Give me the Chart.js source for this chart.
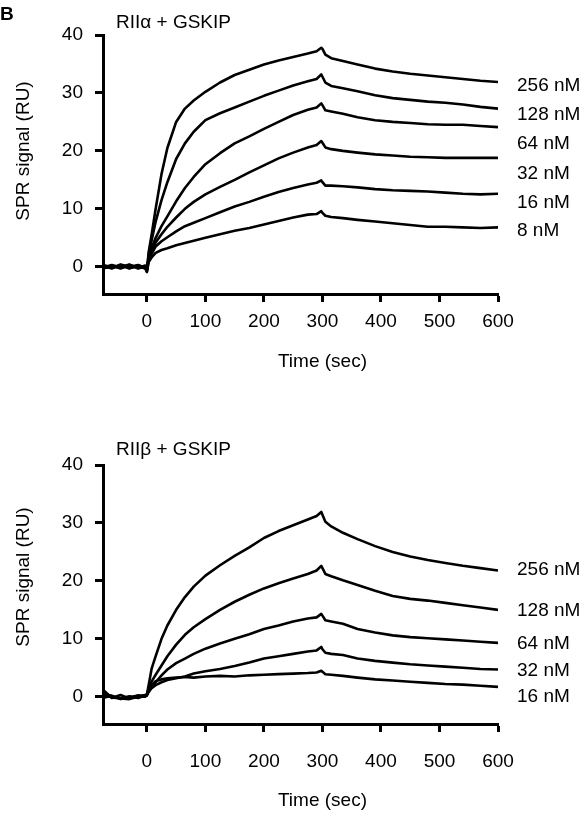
<!DOCTYPE html>
<html>
<head>
<meta charset="utf-8">
<script src="https://cdn.jsdelivr.net/npm/chart.js@4.4.1/dist/chart.umd.min.js"></script>
<style>
  body { margin: 0; background: #fff; }
  #wrap { position: relative; width: 588px; height: 815px; }
  .panel { position: absolute; left: 0; width: 588px; }
</style>
</head>
<body>
<div id="wrap">
  <div class="panel" style="top:0;height:400px"><canvas id="chartA" width="588" height="400"></canvas></div>
  <div class="panel" style="top:430px;height:385px"><canvas id="chartB" width="588" height="385"></canvas></div>
</div>
<script>
// sample times (sec), shared by every trace
const times = [-75, -60, -45, -30, -15, -3, 0, 3, 8, 15, 25, 35, 50, 65, 80, 100, 125, 150, 175, 200,
  225, 250, 275, 290, 298, 300, 305, 315, 335, 360, 390, 420, 450, 480, 510, 540, 570, 600];
const xTicks = [0, 100, 200, 300, 400, 500, 600];
const yTicks = [0, 10, 20, 30, 40];

// RIIalpha + GSKIP
const alphaLabels = ["256 nM", "128 nM", "64 nM", "32 nM", "16 nM", "8 nM"];
const alphaLabelAt = [31.2, 26.3, 21.3, 16.0, 11.0, 6.2];
const alpha256 = [0.2, -0.3, 0.4, 0.0, 0.3, -0.2, -0.8, 2.5, 5.5, 10.0, 16.0, 20.5, 25.0, 27.3, 28.7, 30.2, 31.8, 33.1, 34.0, 34.9,
  35.6, 36.2, 36.8, 37.2, 37.8, 37.6, 36.6, 36.0, 35.5, 34.9, 34.2, 33.7, 33.3, 33.0, 32.7, 32.4, 32.1, 31.9];
const alpha128 = [-0.2, 0.3, -0.1, 0.4, -0.3, 0.1, -0.6, 2.0, 4.5, 7.8, 11.5, 14.6, 18.6, 21.3, 23.3, 25.3, 26.5, 27.5, 28.5, 29.5,
  30.4, 31.3, 32.0, 32.4, 33.2, 32.8, 31.8, 31.2, 30.8, 30.3, 29.6, 29.1, 28.8, 28.5, 28.3, 28.0, 27.6, 27.3];
const alpha64 = [0.1, -0.2, 0.3, -0.3, 0.2, -0.1, -0.5, 1.5, 3.2, 5.0, 7.0, 8.7, 11.3, 13.6, 15.5, 17.7, 19.6, 21.3, 22.5, 23.8,
  25.0, 26.2, 27.1, 27.5, 28.2, 27.9, 27.0, 26.8, 26.4, 25.8, 25.3, 25.0, 24.8, 24.6, 24.5, 24.5, 24.3, 24.1];
const alpha32 = [-0.1, 0.2, -0.3, 0.3, -0.2, 0.2, -0.4, 1.2, 2.6, 4.2, 5.6, 6.9, 8.5, 10.0, 11.2, 12.5, 13.8, 15.0, 16.3, 17.5,
  18.7, 19.7, 20.6, 21.0, 21.7, 21.4, 20.6, 20.3, 20.0, 19.7, 19.4, 19.2, 19.0, 18.9, 18.8, 18.8, 18.8, 18.8];
const alpha16 = [0.3, -0.1, 0.2, -0.2, 0.1, -0.3, -0.7, 1.0, 2.2, 3.5, 4.4, 5.1, 6.1, 7.0, 7.6, 8.4, 9.4, 10.4, 11.2, 12.1,
  12.9, 13.6, 14.2, 14.5, 14.9, 14.6, 14.0, 14.0, 13.9, 13.7, 13.4, 13.2, 13.1, 13.0, 12.8, 12.6, 12.5, 12.6];
const alpha8 = [-0.3, 0.1, -0.2, 0.2, -0.1, 0.0, -0.9, 0.8, 1.6, 2.4, 2.9, 3.2, 3.7, 4.1, 4.5, 5.0, 5.6, 6.2, 6.7, 7.3,
  7.9, 8.5, 9.0, 9.1, 9.6, 9.3, 8.8, 8.6, 8.4, 8.1, 7.8, 7.5, 7.2, 6.9, 6.9, 6.8, 6.7, 6.8];

// RIIbeta + GSKIP
const betaLabels = ["256 nM", "128 nM", "64 nM", "32 nM", "16 nM"];
const betaLabelAt = [21.9, 14.9, 9.2, 4.5, 0.0];
const beta256 = [1.2, -0.2, 0.3, -0.3, 0.2, 0.1, 0.4, 2.0, 4.8, 7.0, 10.0, 12.3, 15.0, 17.2, 19.0, 20.9, 22.7, 24.3, 25.8, 27.4,
  28.6, 29.6, 30.6, 31.2, 31.9, 31.4, 30.2, 29.4, 28.3, 27.2, 26.0, 25.0, 24.2, 23.6, 23.1, 22.6, 22.2, 21.8];
const beta128 = [0.5, 0.1, -0.3, -0.4, 0.0, 0.2, 0.3, 1.4, 2.6, 3.8, 5.4, 7.0, 9.0, 10.7, 12.0, 13.4, 15.0, 16.4, 17.6, 18.7,
  19.6, 20.4, 21.2, 21.8, 22.6, 22.2, 21.2, 20.8, 20.1, 19.3, 18.3, 17.4, 16.9, 16.6, 16.2, 15.8, 15.4, 15.0];
const beta64 = [-0.2, 0.2, -0.4, -0.2, 0.1, 0.3, 0.2, 1.0, 1.8, 2.5, 3.7, 4.7, 5.8, 6.6, 7.4, 8.3, 9.2, 10.0, 10.8, 11.7,
  12.3, 13.0, 13.5, 13.7, 14.3, 14.0, 13.2, 13.0, 12.6, 11.7, 11.1, 10.6, 10.3, 10.1, 9.9, 9.7, 9.5, 9.3];
const beta32 = [0.3, -0.1, -0.3, 0.1, -0.2, 0.2, 0.4, 0.8, 1.5, 2.0, 2.5, 2.9, 3.2, 3.5, 4.0, 4.4, 4.8, 5.3, 5.9, 6.6,
  7.0, 7.4, 7.8, 8.0, 8.6, 8.2, 7.6, 7.4, 7.2, 6.6, 6.2, 5.9, 5.6, 5.4, 5.2, 5.0, 4.8, 4.7];
const beta16 = [0.8, 0.0, -0.2, -0.1, 0.2, 0.0, 0.3, 1.0, 2.0, 2.7, 3.0, 3.2, 3.3, 3.4, 3.3, 3.5, 3.6, 3.5, 3.7, 3.8,
  3.9, 4.0, 4.1, 4.2, 4.5, 4.3, 3.9, 3.8, 3.6, 3.3, 3.0, 2.8, 2.6, 2.4, 2.2, 2.1, 1.9, 1.7];

const FONT = '"Liberation Sans", Arial, sans-serif';
Chart.defaults.font.family = FONT;
Chart.defaults.font.size = 19;
Chart.defaults.color = "#000";

// panel title, concentration labels and axis titles
const panelText = {
  id: "panelText",
  afterDraw(chart, args, opts) {
    const { ctx } = chart;
    const x = chart.scales.x, y = chart.scales.y;
    ctx.save();
    ctx.fillStyle = "#000";
    ctx.font = "19px " + FONT;
    ctx.textBaseline = "middle";
    ctx.textAlign = "left";
    ctx.fillText(opts.title, 116, opts.titleY);
    opts.labels.forEach((lab, i) => {
      ctx.fillText(lab, 517, y.getPixelForValue(opts.labelAt[i]));
    });
    ctx.textAlign = "center";
    ctx.fillText("Time (sec)", x.getPixelForValue(300), opts.xTitleY);
    ctx.save();
    ctx.translate(24, opts.yTitleY);
    ctx.rotate(-Math.PI / 2);
    ctx.fillText("SPR signal (RU)", 0, 0);
    ctx.restore();
    if (opts.letter) {
      ctx.font = "bold 19px " + FONT;
      ctx.textAlign = "left";
      ctx.fillText(opts.letter, 0, 15);
    }
    ctx.restore();
  }
};

function makeChart(id, series, text, tickPad) {
  const axisGrid = { drawOnChartArea: false, drawTicks: true, tickLength: 8, tickWidth: 3, tickColor: "#000" };
  const axisBorder = { display: true, width: 3, color: "#000" };
  return new Chart(document.getElementById(id), {
    type: "line",
    data: {
      datasets: series.map((vals) => ({
        data: times.map((t, i) => ({ x: t, y: vals[i] })),
        borderColor: "#000",
        borderWidth: 2.6,
        borderJoinStyle: "round",
        pointRadius: 0,
        tension: 0,
        fill: false,
      })),
    },
    options: {
      responsive: false,
      animation: false,
      layout: { padding: { top: 35, right: 90, left: 0, bottom: 0 } },
      plugins: { legend: { display: false }, tooltip: { enabled: false }, panelText: text },
      scales: {
        x: {
          type: "linear",
          min: -75,
          max: 600,
          grid: axisGrid,
          border: axisBorder,
          ticks: { padding: tickPad, maxRotation: 0 },
          afterBuildTicks: (s) => { s.ticks = xTicks.map((v) => ({ value: v })); },
          afterFit: (s) => { s.height = s.chart.height - 294; },
        },
        y: {
          min: -4.7,
          max: 40,
          grid: axisGrid,
          border: axisBorder,
          ticks: { padding: 12 },
          afterBuildTicks: (s) => { s.ticks = yTicks.map((v) => ({ value: v })); },
          afterFit: (s) => { s.width = 103; },
        },
      },
    },
    plugins: [panelText],
  });
}

makeChart("chartA", [alpha256, alpha128, alpha64, alpha32, alpha16, alpha8], {
  title: "RII\u03b1 + GSKIP", titleY: 23, labels: alphaLabels, labelAt: alphaLabelAt,
  xTitleY: 362, yTitleY: 151, letter: "B",
}, 8);

makeChart("chartB", [beta256, beta128, beta64, beta32, beta16], {
  title: "RII\u03b2 + GSKIP", titleY: 20, labels: betaLabels, labelAt: betaLabelAt,
  xTitleY: 371, yTitleY: 147, letter: "",
}, 18);
</script>
</body>
</html>
